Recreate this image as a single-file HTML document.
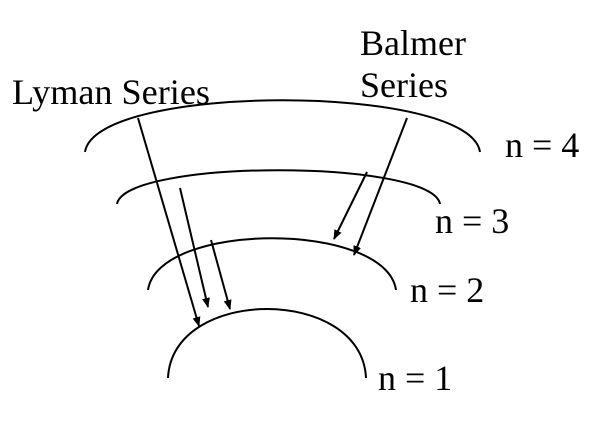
<!DOCTYPE html>
<html><head><style>html,body{margin:0;padding:0;background:#fff}</style></head>
<body>
<svg width="614" height="422" xmlns="http://www.w3.org/2000/svg" style="display:block">
<defs><marker id="a" markerWidth="10" markerHeight="10" refX="9" refY="5" orient="auto" markerUnits="userSpaceOnUse"><path d="M0,1 L10,5 L0,9 z" fill="#000"/></marker></defs>
<g fill="none" stroke="#000" stroke-width="2">
<path d="M85,152 C95,83 470,83 480,152"/>
<path d="M117,204 C125,159 432,159 440,204"/>
<path d="M148,290 C158,221 386,221 396,290"/>
<path d="M168,378 C172,286 362,286 366,378"/>
</g>
<g stroke="#000" stroke-width="2" marker-end="url(#a)">
<line x1="138" y1="118" x2="199" y2="326"/>
<line x1="180" y1="188" x2="208" y2="307"/>
<line x1="211" y1="240" x2="230" y2="309"/>
<line x1="367" y1="172" x2="334" y2="239"/>
<line x1="407" y1="118" x2="354" y2="255"/>
</g>
<g font-family="Liberation Serif, serif" font-size="36" fill="#000">
<text x="12" y="104" textLength="198" lengthAdjust="spacingAndGlyphs">Lyman Series</text>
<text x="360" y="55">Balmer</text>
<text x="360" y="97">Series</text>
<text x="505" y="157">n = 4</text>
<text x="435" y="233">n = 3</text>
<text x="410" y="302">n = 2</text>
<text x="378" y="390">n = 1</text>
</g>
</svg>
</body></html>
